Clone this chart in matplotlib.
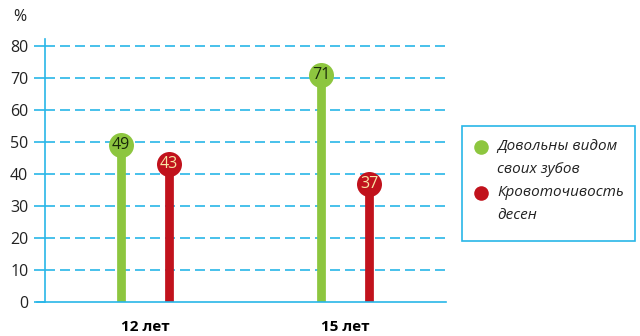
import numpy as np
import matplotlib.pyplot as plt
from matplotlib.lines import Line2D
from matplotlib.patches import Rectangle

plt.rcParams['font.family'] = ['Open Sans', 'DejaVu Sans']

# data
groups = ['12 лет', '15 лет']
satisfied = [49, 71]
bleeding = [43, 37]
series_names = [['Довольны видом', 'своих зубов'], ['Кровоточивость', 'десен']]

green = '#8dc63f'
red = '#c1121c'
grid_c = '#29b6e8'
W, H = 640, 336

fig = plt.figure(figsize=(6.4, 3.36), dpi=100)
ax = fig.add_axes([45 / W, 34 / H, 401 / W, 263 / H])

x = np.arange(len(groups))
off = 0.12

for xs, vals, col, txt in [(x - off, satisfied, green, '#1a2a0a'),
                           (x + off, bleeding, red, '#f8e6a6')]:
    ax.vlines(xs, 0, vals, color=col, lw=6.3, zorder=3)
    ax.plot(xs, vals, 'o', ms=18, color=col, mec='none', zorder=4)
    for xi, v in zip(xs, vals):
        ax.text(xi, v, str(v), ha='center', va='center', fontsize=11.5,
                color=txt, zorder=5)

ax.set_xlim(-0.5, 1.505)
ax.set_ylim(0, 82.2)
ax.set_yticks(range(0, 81, 10))
ax.set_xticks(x)
ax.set_xticklabels(groups, fontweight='bold', fontsize=11)
ax.tick_params(axis='x', length=0, pad=13)
ax.tick_params(axis='y', length=8, color=grid_c, width=1.2, labelsize=11.5,
               labelcolor='#222222', pad=4)

for y in range(10, 81, 10):
    ax.axhline(y, color=grid_c, lw=1.2, ls=(0, (6, 3)), zorder=1)

for s in ['top', 'right']:
    ax.spines[s].set_visible(False)
for s in ['left', 'bottom']:
    ax.spines[s].set_color(grid_c)
    ax.spines[s].set_linewidth(1.2)
ax.spines['bottom'].set_bounds(-0.54, 1.505)
ax.spines['bottom'].set_zorder(5)

fig.text(20 / W, 1 - 17 / H, '%', ha='center', va='center', fontsize=11.5,
         color='#222222')

# legend box drawn by hand
fig.add_artist(Rectangle((462 / W, 1 - 241 / H), 173 / W, 115 / H,
                         transform=fig.transFigure, fill=False,
                         ec=grid_c, lw=1.2))
rows = [147, 193]
for ry, col, lines in zip(rows, (green, red), series_names):
    fig.add_artist(Line2D([481 / W], [1 - ry / H], marker='o', ms=10.5,
                          color=col, mec='none', transform=fig.transFigure))
    for k, line in enumerate(lines):
        fig.text(497 / W, 1 - (ry + 22.5 * k) / H, line, ha='left',
                 va='center', fontsize=11, style='italic', color='#222222')

fig.savefig('out.png', dpi=100)
